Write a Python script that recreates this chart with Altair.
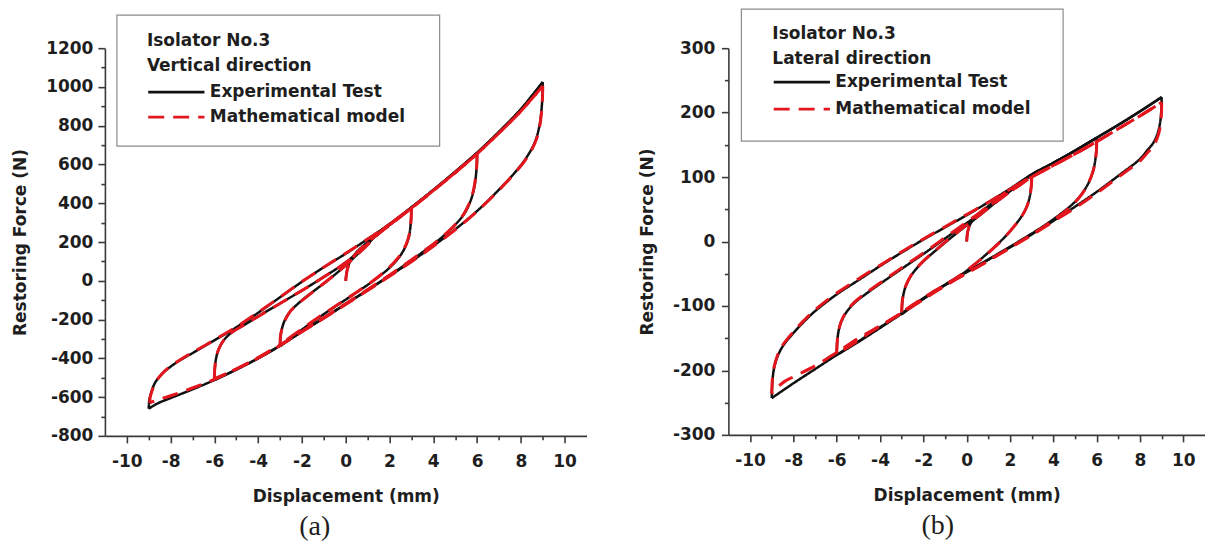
import altair as alt
import pandas as pd

FONT = "DejaVu Sans"
INK = "#1e1e1e"
AXIS_INK = "#3a3a3a"
SERIES = ["Experimental Test", "Mathematical model"]
LINE_COLORS = ["#111111", "#e3161e"]
LINE_DASHES = [[1, 0], [16, 9]]

# Vertical direction, experimental test: one list per loading branch,
# (displacement mm, restoring force N) in loading order
vert_exp = [
    [(0, 0), (0.03, 35), (0.1, 72), (0.25, 110), (0.5, 148), (0.85, 185), (1.3, 228), (1.8, 272), (2.4, 322),
     (3, 378)],
    [(3, 378), (2.99, 330), (2.96, 282), (2.9, 235), (2.78, 190), (2.58, 145), (2.3, 102), (1.85, 52), (1.3, 3),
     (0.6, -52), (-0.2, -112), (-1, -172), (-2, -252), (-3, -338)],
    [(-3, -338), (-2.98, -290), (-2.92, -250), (-2.8, -208), (-2.58, -165), (-2.2, -120), (-1.6, -65), (-0.9, -5),
     (-0.1, 70), (0.7, 155), (1.5, 245), (2.2, 305), (3, 378), (4, 468), (5, 562), (6, 660)],
    [(6, 660), (5.99, 605), (5.95, 545), (5.87, 480), (5.72, 418), (5.45, 352), (5.05, 295), (4.4, 225),
     (3.6, 155), (2.7, 82), (1.8, 12), (1, -48), (0, -120), (-1, -192), (-2, -262), (-3, -334), (-4, -400),
     (-5, -458), (-6, -512)],
    [(-6, -512), (-5.98, -455), (-5.93, -405), (-5.82, -358), (-5.58, -308), (-5.2, -266), (-4.6, -225),
     (-3.8, -170), (-2.9, -110), (-2, -50), (-1, 20), (0, 95), (0.8, 172), (1.6, 258), (2.4, 326), (3, 378),
     (4, 468), (5, 562), (6, 660), (7, 768), (8, 885), (9, 1025)],
    [(9, 1025), (8.99, 965), (8.95, 890), (8.85, 800), (8.65, 718), (8.25, 635), (7.7, 555), (7, 470), (6, 360),
     (5, 265), (4, 180), (3, 100), (2, 25), (1, -48), (0, -120), (-1, -192), (-2, -262), (-3, -335), (-4, -400),
     (-5, -458), (-6, -512), (-7, -560), (-8, -605), (-8.6, -633), (-9, -660)],
    [(-9, -660), (-8.97, -615), (-8.9, -583), (-8.72, -528), (-8.4, -482), (-8, -443), (-7.5, -405), (-7, -373),
     (-6, -307), (-5, -240), (-4, -165), (-3, -85), (-2, -5), (-1, 70), (0, 140), (1, 215), (2, 292), (3, 378),
     (4, 468), (5, 562), (6, 660), (7, 768), (8, 885), (9, 1025)],
]

# Vertical direction, mathematical model
vert_mod = [
    [(0, 0), (0.04, 38), (0.12, 75), (0.28, 112), (0.55, 150), (0.9, 188), (1.35, 230), (1.85, 275), (2.4, 324),
     (3, 375)],
    [(3, 375), (2.99, 325), (2.95, 275), (2.88, 228), (2.75, 185), (2.55, 142), (2.25, 100), (1.8, 50), (1.25, 0),
     (0.55, -55), (-0.25, -115), (-1, -170), (-2, -248), (-3, -330)],
    [(-3, -330), (-2.98, -285), (-2.9, -243), (-2.77, -203), (-2.55, -160), (-2.15, -116), (-1.55, -62),
     (-0.85, 0), (-0.05, 74), (0.75, 158), (1.55, 247), (2.2, 303), (3, 375), (4, 465), (5, 558), (6, 655)],
    [(6, 655), (5.99, 600), (5.94, 540), (5.85, 475), (5.7, 415), (5.42, 350), (5.02, 292), (4.35, 222),
     (3.55, 152), (2.65, 80), (1.75, 10), (1, -45), (0, -118), (-1, -190), (-2, -260), (-3, -330), (-4, -396),
     (-5, -455), (-6, -505)],
    [(-6, -505), (-5.98, -450), (-5.92, -400), (-5.8, -352), (-5.55, -303), (-5.15, -262), (-4.55, -222),
     (-3.75, -167), (-2.85, -107), (-1.95, -47), (-0.95, 23), (0.05, 98), (0.85, 175), (1.65, 260), (2.4, 326),
     (3, 375), (4, 465), (5, 558), (6, 655), (7, 762), (8, 875), (9, 1005)],
    [(9, 1005), (8.99, 950), (8.95, 875), (8.85, 790), (8.65, 712), (8.25, 630), (7.7, 552), (7, 468), (6, 358),
     (5, 263), (4, 178), (3, 98), (2, 23), (1, -50), (0, -122), (-1, -193), (-2, -263), (-3, -334), (-4, -398),
     (-5, -455), (-6, -508), (-7, -553), (-8, -593), (-8.6, -615), (-8.95, -630)],
    [(-8.95, -630), (-8.93, -600), (-8.85, -568), (-8.68, -522), (-8.38, -478), (-8, -440), (-7.5, -403),
     (-7, -370), (-6, -305), (-5, -238), (-4, -163), (-3, -84), (-2, -4), (-1, 70), (0, 142), (1, 215), (2, 290),
     (3, 375), (4, 465), (5, 558), (6, 655), (7, 762), (8, 875), (9, 1005)],
]

# Lateral direction, experimental test
lat_exp = [
    [(0, 0), (0.03, 12), (0.12, 24), (0.3, 34), (0.6, 44), (1.0, 55), (1.5, 68), (2, 81), (2.5, 92), (3, 104)],
    [(3, 104), (2.99, 92), (2.96, 80), (2.9, 68), (2.78, 55), (2.55, 40), (2.2, 24), (1.7, 5), (1, -17),
     (0.2, -40), (-0.6, -60), (-1.5, -77), (-2.3, -95), (-3, -113)],
    [(-3, -113), (-2.98, -97), (-2.92, -82), (-2.8, -68), (-2.55, -52), (-2.1, -34), (-1.4, -13), (-0.5, 12),
     (0.5, 38), (1.5, 65), (2.3, 86), (3, 104), (4, 122), (5, 141), (6, 161)],
    [(6, 161), (5.99, 146), (5.95, 130), (5.86, 113), (5.68, 95), (5.38, 77), (4.95, 60), (4.3, 42), (3.5, 23),
     (2.5, 2), (1.5, -18), (0.5, -38), (-0.5, -57), (-1.5, -78), (-2.5, -100), (-3.5, -123), (-4.5, -145),
     (-5.3, -162), (-6, -176)],
    [(-6, -176), (-5.98, -158), (-5.93, -142), (-5.82, -127), (-5.6, -112), (-5.2, -96), (-4.6, -80), (-3.8, -61),
     (-2.9, -40), (-1.9, -17), (-0.9, 7), (0.1, 31), (1.1, 56), (2.1, 81), (3, 103), (4, 122), (5, 141),
     (6, 161), (7, 181), (8, 202), (9, 224)],
    [(9, 224), (8.99, 208), (8.95, 190), (8.85, 172), (8.65, 155), (8.3, 140), (8, 128), (7, 102), (6, 77),
     (5, 54), (4, 32), (3, 11), (2, -9), (1, -28), (0, -47), (-1, -67), (-2, -89), (-3, -112), (-4, -133),
     (-5, -155), (-6, -176), (-7, -198), (-8, -220), (-9, -243)],
    [(-9, -243), (-8.97, -218), (-8.9, -198), (-8.75, -180), (-8.5, -163), (-8, -142), (-7.5, -124), (-7, -108),
     (-6, -82), (-5, -60), (-4, -38), (-3, -17), (-2, 3), (-1, 22), (0, 41), (1, 61), (2, 82), (3, 104),
     (4, 122), (5, 141), (6, 161), (7, 181), (8, 202), (9, 224)],
]

# Lateral direction, mathematical model
lat_mod = [
    [(0, 0), (0.04, 14), (0.14, 26), (0.33, 36), (0.65, 46), (1.05, 57), (1.55, 70), (2.05, 82), (2.55, 92),
     (3, 100)],
    [(3, 100), (2.99, 89), (2.95, 77), (2.88, 65), (2.75, 52), (2.52, 38), (2.15, 22), (1.65, 3), (0.95, -19),
     (0.15, -41), (-0.65, -60), (-1.5, -77), (-2.3, -94), (-3, -110)],
    [(-3, -110), (-2.98, -95), (-2.91, -80), (-2.78, -66), (-2.52, -50), (-2.05, -32), (-1.35, -11), (-0.45, 14),
     (0.55, 40), (1.55, 66), (2.3, 84), (3, 100), (4, 118), (5, 136), (6, 155)],
    [(6, 155), (5.99, 141), (5.94, 126), (5.84, 110), (5.65, 93), (5.35, 75), (4.92, 58), (4.28, 40), (3.48, 21),
     (2.48, 0), (1.48, -20), (0.48, -40), (-0.5, -59), (-1.5, -79), (-2.5, -100), (-3.5, -121), (-4.5, -142),
     (-5.3, -160), (-6, -174)],
    [(-6, -174), (-5.98, -156), (-5.92, -140), (-5.8, -125), (-5.58, -110), (-5.18, -94), (-4.58, -78),
     (-3.78, -59), (-2.88, -38), (-1.88, -15), (-0.88, 9), (0.12, 33), (1.12, 57), (2.12, 80), (3, 100),
     (4, 118), (5, 136), (6, 155), (7, 175), (8, 195), (9, 216)],
    [(9, 216), (8.99, 200), (8.95, 183), (8.85, 166), (8.65, 150), (8.3, 136), (8, 125), (7, 100), (6, 75),
     (5, 52), (4, 31), (3, 10), (2, -10), (1, -30), (0, -49), (-1, -68), (-2, -90), (-3, -111), (-4, -131),
     (-5, -150), (-6, -172), (-7, -193), (-8, -210), (-8.4, -217), (-8.7, -225), (-9, -236)],
    [(-9, -236), (-8.97, -214), (-8.9, -196), (-8.75, -178), (-8.5, -161), (-8, -140), (-7.5, -122), (-7, -106),
     (-6, -80), (-5, -58), (-4, -37), (-3, -16), (-2, 4), (-1, 23), (0, 42), (1, 61), (2, 81), (3, 100),
     (4, 118), (5, 136), (6, 155), (7, 175), (8, 195), (9, 216)],
]


def curve_frame(branches, series):
    rows = []
    for b, branch in enumerate(branches):
        for s, (disp, force) in enumerate(branch):
            rows.append({"disp": disp, "force": force, "series": series, "branch": b, "step": s})
    return pd.DataFrame(rows)


def hysteresis_panel(exp_pts, mod_pts, direction, y_domain, y_minor, width, height,
                     legend_x, legend_y, title_pad, row_pad, box, y_label_pad, tag, tag_dx):
    major = 2 * y_minor
    x_axis = alt.Axis(
        values=list(range(-10, 11)),
        labelExpr="datum.value % 2 === 0 ? '' + datum.value : ''",
        tickSize={"condition": {"test": "datum.value % 2 === 0", "value": 7}, "value": 4},
        labelPadding=11, labelOverlap=False, labelFlush=False,
        title="Displacement (mm)", titlePadding=19,
    )
    y_axis = alt.Axis(
        values=list(range(y_domain[0], y_domain[1] + 1, y_minor)),
        labelExpr=f"datum.value % {major} === 0 ? '' + datum.value : ''",
        tickSize={"condition": {"test": f"datum.value % {major} === 0", "value": 7}, "value": 4},
        labelPadding=y_label_pad, labelOverlap=False, labelFlush=False,
        title="Restoring Force (N)", titlePadding=16,
    )
    x = alt.X("disp:Q", scale=alt.Scale(domain=[-11, 11], nice=False, zero=False), axis=x_axis)
    y = alt.Y("force:Q", scale=alt.Scale(domain=y_domain, nice=False, zero=False), axis=y_axis)

    legend = alt.Legend(
        orient="none", legendX=legend_x, legendY=legend_y, padding=0,
        title=["Isolator No.3", direction], titleFont=FONT, titleFontSize=17, titleFontWeight="bold",
        titleColor=INK, titleLineHeight=25, titlePadding=title_pad, titleAnchor="start", titleLimit=400,
        labelFont=FONT, labelFontSize=17, labelFontWeight="bold", labelColor=INK, labelLimit=400,
        labelOffset=43, rowPadding=row_pad,
        symbolType="M-1,0H5.5", symbolSize=300, symbolStrokeWidth=2.6,
    )
    color = alt.Color("series:N", scale=alt.Scale(domain=SERIES, range=LINE_COLORS), legend=legend)
    dash = alt.StrokeDash("series:N", scale=alt.Scale(domain=SERIES, range=LINE_DASHES), legend=legend)

    legend_box = alt.Chart(alt.Data(values=[{}])).mark_rect(
        fill="white", stroke="#8c8c8c", strokeWidth=1.2
    ).encode(x=alt.value(box[0]), x2=alt.value(box[1]), y=alt.value(box[2]), y2=alt.value(box[3]))

    measured = alt.Chart(curve_frame(exp_pts, SERIES[0])).mark_line(
        strokeWidth=2.5, interpolate="catmull-rom"
    ).encode(x=x, y=y, color=color, strokeDash=dash, detail="branch:N", order="step:Q")

    modelled = alt.Chart(curve_frame(mod_pts, SERIES[1])).mark_line(
        strokeWidth=3.0, interpolate="catmull-rom"
    ).encode(x=x, y=y, color=color, strokeDash=dash, detail="branch:N", order="step:Q")

    return alt.layer(legend_box, measured, modelled).properties(
        width=width, height=height,
        title=alt.TitleParams(
            text=tag, orient="bottom", anchor="middle", frame="group",
            font="Liberation Serif", fontSize=28, fontWeight="normal", color=INK,
            offset=8, dx=tag_dx,
        ),
    )


vertical = hysteresis_panel(vert_exp, vert_mod, "Vertical direction", [-800, 1200], 100, 482, 388,
                            42, -15, 7, 7, (12, 335, -33, 98), 5, "(a)", -31)
lateral = hysteresis_panel(lat_exp, lat_mod, "Lateral direction", [-300, 300], 50, 477, 387,
                           44, -22, 4, 9, (13, 335, -39, 93), 6.5, "(b)", -29)

chart = alt.hconcat(vertical, lateral, spacing=142, bounds="flush").resolve_scale(
    color="independent", strokeDash="independent", x="independent", y="independent"
).resolve_legend(
    color="independent", strokeDash="independent"
).properties(
    padding={"left": 11, "top": 8, "right": 0, "bottom": 0}
).configure_axis(
    labelFont=FONT, labelFontSize=17, labelFontWeight="bold", labelColor=INK,
    titleFont=FONT, titleFontSize=17, titleFontWeight="bold", titleColor=INK,
    domainColor=AXIS_INK, domainWidth=1.6, tickColor=AXIS_INK, tickWidth=1.6, grid=False,
).configure_view(stroke=None)

chart.save("out.html", embed_options={"renderer": "svg", "actions": False})
